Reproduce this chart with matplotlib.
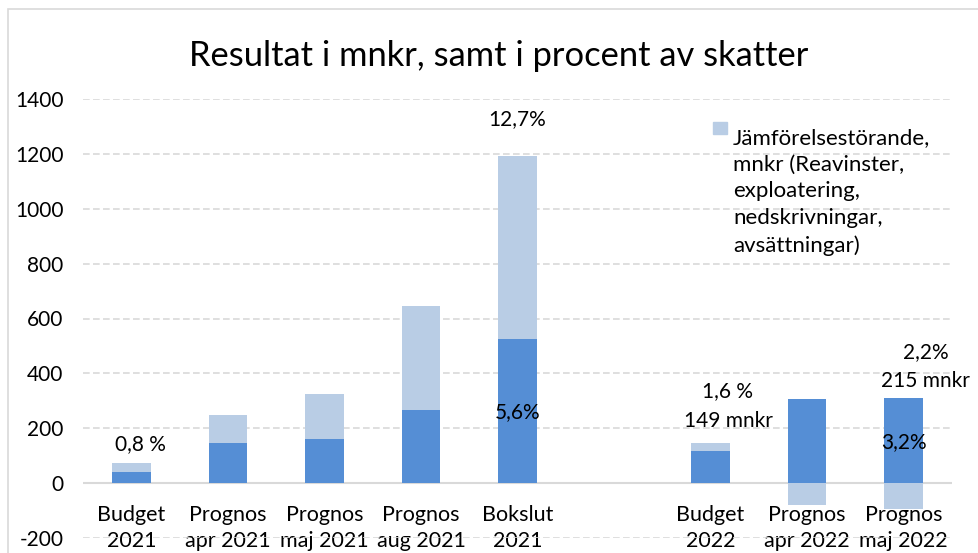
import matplotlib.pyplot as plt
from matplotlib.patches import Rectangle

plt.rcParams['font.family'] = ['Lato', 'DejaVu Sans']
plt.rcParams['font.size'] = 15
plt.rcParams['axes.unicode_minus'] = False

# data (mnkr)
categories = ["Budget\n2021", "Prognos\napr 2021", "Prognos\nmaj 2021", "Prognos\naug 2021",
              "Bokslut\n2021", "", "Budget\n2022", "Prognos\napr 2022", "Prognos\nmaj 2022"]
resultat = [40, 147, 159, 266, 526, 0, 118, 308, 311]
jamforelsestorande = [32, 103, 166, 378, 668, 0, 30, -80, -96]
legend_label = "Jämförelsestörande,\nmnkr (Reavinster,\nexploatering,\nnedskrivningar,\navsättningar)"

dark = "#558ed5"
light = "#b9cde5"

fig = plt.figure(figsize=(9.79, 5.53), dpi=100)
ax = fig.add_axes([83 / 979, 1 - 538 / 553, 869 / 979, 439 / 553])

x = list(range(len(categories)))
ax.bar(x, resultat, width=0.4, color=dark, zorder=2)
# light part sits on top of positive results, below zero when negative
bottoms = [r if j >= 0 else 0 for r, j in zip(resultat, jamforelsestorande)]
ax.bar(x, jamforelsestorande, width=0.4, bottom=bottoms, color=light, zorder=2)

ax.set_xlim(-0.5, len(categories) - 0.5)
ax.set_ylim(-200, 1400)
ax.set_yticks(range(-200, 1401, 200))
ax.grid(axis='y', color='#d9d9d9', linestyle=(0, (4, 2)), linewidth=1.2, zorder=0)
ax.axhline(0, color='#d9d9d9', linewidth=1.5, zorder=1)
for s in ax.spines.values():
    s.set_visible(False)
ax.tick_params(axis='y', length=0, pad=14, labelcolor='black')
ax.tick_params(axis='x', length=0, pad=-24, labelsize=15.5)
ax.set_xticks(x)
ax.set_xticklabels(categories, linespacing=1.4)

# annotations
ax.text(0.1, 143, "0,8 %", ha='center', va='center')
ax.text(4, 1325, "12,7%", ha='center', va='center')
ax.text(4, 258, "5,6%", ha='center', va='center', zorder=5)
ax.text(6.18, 335, "1,6 %", ha='center', va='center')
ax.text(6.18, 225, "149 mnkr", ha='center', va='center')
ax.text(8.23, 478, "2,2%", ha='center', va='center')
ax.text(8.23, 372, "215 mnkr", ha='center', va='center')
ax.text(8.0, 148, "3,2%", ha='center', va='center', zorder=5)

fig.text(499 / 979, 1 - 56 / 553, "Resultat i mnkr, samt i procent av skatter",
         fontsize=24.8, ha='center', va='center')

# legend (only the light series is listed)
ax.add_patch(Rectangle((630 / 869, 1 - 35 / 439), 14 / 869, 12 / 439, transform=ax.transAxes,
                       color=light, clip_on=False, zorder=4))
ax.text(650 / 869, 1 - 29 / 439, legend_label, transform=ax.transAxes, ha='left', va='top',
        fontsize=16, linespacing=1.42, zorder=4)

fig.patches.append(Rectangle((8 / 979, -0.1), 1.1, 1 - 9 / 553 + 0.1, transform=fig.transFigure,
                             fill=False, edgecolor='#d9d9d9', linewidth=1.2))

fig.savefig("out.png", dpi=100)
